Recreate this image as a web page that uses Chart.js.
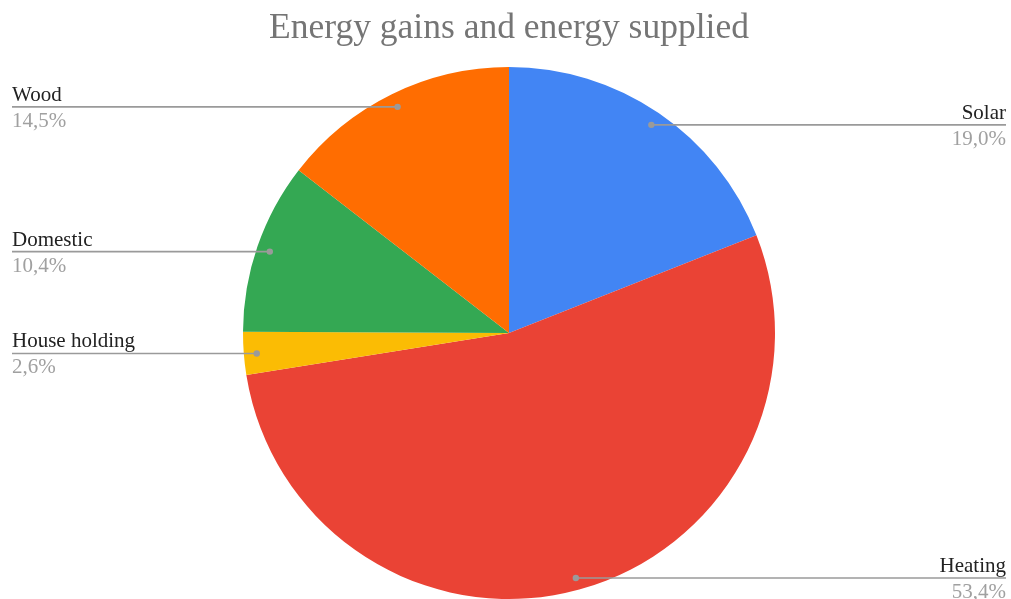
<!DOCTYPE html>
<html>
<head>
<meta charset="utf-8">
<script src="https://cdn.jsdelivr.net/npm/chart.js@4"></script>
<style>
  body { margin: 0; background: #ffffff; }
  canvas { display: block; }
</style>
</head>
<body>
<canvas id="energyChart" width="1011" height="599"></canvas>
<script>
// Data (clockwise from the top)
const chartTitle = 'Energy gains and energy supplied';
const categories = ['Solar', 'Heating', 'House holding', 'Domestic', 'Wood'];
const shares = [19.0, 53.4, 2.6, 10.4, 14.5];
const shareLabels = ['19,0%', '53,4%', '2,6%', '10,4%', '14,5%'];
const sliceColors = ['#4285f4', '#ea4335', '#fbbc04', '#34a853', '#ff6d01'];

const serif = "'Liberation Serif', 'Times New Roman', serif";

// Title + leader-line labels drawn on the canvas
const calloutPlugin = {
    id: 'callouts',
    afterDraw(chart) {
        const ctx = chart.ctx;
        const meta = chart.getDatasetMeta(0);
        ctx.save();

        // title
        ctx.font = '35.5px ' + serif;
        ctx.fillStyle = '#757575';
        ctx.textAlign = 'center';
        ctx.textBaseline = 'alphabetic';
        ctx.fillText(chartTitle, 509, 38);

        meta.data.forEach((arc, i) => {
            const p = arc.getProps(['x', 'y', 'startAngle', 'endAngle', 'outerRadius'], true);
            const mid = (p.startAngle + p.endAngle) / 2;
            const rr = p.outerRadius - 13;
            const dx = p.x + Math.cos(mid) * rr;
            const dy = p.y + Math.sin(mid) * rr + 1;
            const right = Math.cos(mid) >= 0;
            const endX = right ? 1006 : 12;

            ctx.strokeStyle = '#9a9a9a';
            ctx.lineWidth = 1.6;
            ctx.beginPath();
            ctx.moveTo(dx, dy);
            ctx.lineTo(endX, dy);
            ctx.stroke();

            ctx.fillStyle = '#9a9a9a';
            ctx.beginPath();
            ctx.arc(dx, dy, 3.2, 0, Math.PI * 2);
            ctx.fill();

            ctx.font = '21px ' + serif;
            ctx.textAlign = right ? 'right' : 'left';
            ctx.fillStyle = '#222222';
            ctx.fillText(categories[i], endX, dy - 6);
            ctx.fillStyle = '#a0a0a0';
            ctx.fillText(shareLabels[i], endX, dy + 20);
        });
        ctx.restore();
    }
};

new Chart(document.getElementById('energyChart'), {
    type: 'pie',
    data: {
        labels: categories,
        datasets: [{
            data: shares,
            backgroundColor: sliceColors,
            borderWidth: 0
        }]
    },
    options: {
        responsive: false,
        animation: false,
        layout: {
            padding: { top: 67, bottom: 0, left: 7, right: 0 }
        },
        plugins: {
            legend: { display: false },
            tooltip: { enabled: false },
            title: { display: false }
        }
    },
    plugins: [calloutPlugin]
});
</script>
</body>
</html>
